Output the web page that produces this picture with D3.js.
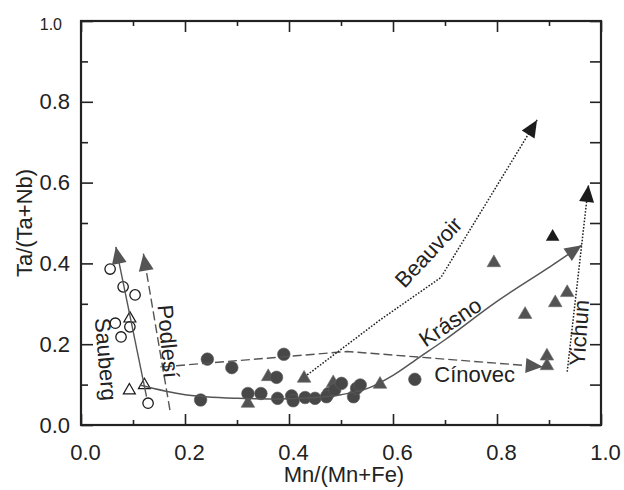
<!DOCTYPE html>
<html>
<head>
<meta charset="utf-8">
<script src="https://cdn.jsdelivr.net/npm/d3@7"></script>
<style>
  html, body { margin: 0; padding: 0; background: #fff; }
  svg { display: block; font-family: "Liberation Sans", Arial, sans-serif; }
</style>
</head>
<body>
<svg id="chart" width="624" height="490"></svg>
<script>
// ---------------- DATA ----------------
const xTickValues = [0.0, 0.2, 0.4, 0.6, 0.8, 1.0];
const yTickValues = [0.0, 0.2, 0.4, 0.6, 0.8, 1.0];
const xMinorTicks = [0.1, 0.3, 0.5, 0.7, 0.9];
const yMinorTicks = [0.1, 0.3, 0.5, 0.7, 0.9];
const xTitle = "Mn/(Mn+Fe)";
const yTitle = "Ta/(Ta+Nb)";

// Sauberg open circles [Mn/(Mn+Fe), Ta/(Ta+Nb)]
const saubergCircles = [
  [0.056, 0.386], [0.081, 0.342], [0.104, 0.322], [0.066, 0.252],
  [0.094, 0.243], [0.077, 0.218], [0.129, 0.054]
];
// Sauberg open triangles
const saubergTriangles = [
  [0.094, 0.266], [0.093, 0.088], [0.122, 0.101]
];
// Filled circles (Cínovec / Krásno)
const filledCircles = [
  [0.230, 0.062], [0.243, 0.163], [0.290, 0.142], [0.390, 0.175],
  [0.376, 0.118], [0.321, 0.078], [0.346, 0.078], [0.378, 0.066],
  [0.405, 0.072], [0.408, 0.060], [0.431, 0.068], [0.450, 0.066],
  [0.476, 0.078], [0.472, 0.070], [0.488, 0.087], [0.501, 0.103],
  [0.524, 0.070], [0.530, 0.091], [0.537, 0.099], [0.642, 0.113]
];
// Filled grey triangles
const greyTriangles = [
  [0.360, 0.122], [0.429, 0.118], [0.321, 0.056], [0.485, 0.107],
  [0.575, 0.103], [0.794, 0.404], [0.854, 0.276], [0.912, 0.305],
  [0.935, 0.330], [0.896, 0.173], [0.896, 0.149]
];
// Filled black triangles
const blackTriangles = [
  [0.907, 0.468]
];

// Trend arrows (last point = arrow tip)
const saubergTrend  = [[0.126, 0.070], [0.067, 0.441]];
const podlesiTrend  = [[0.171, 0.037], [0.120, 0.424]];
const krasnoTrend   = [[0.113, 0.099], [0.2, 0.075], [0.3, 0.066], [0.4, 0.065],
                       [0.45, 0.068], [0.5, 0.075], [0.55, 0.090], [0.6, 0.123],
                       [0.65, 0.167], [0.7, 0.211], [0.8, 0.306], [0.9, 0.390], [0.963, 0.445]];
const cinovecTrend  = [[0.158, 0.144], [0.512, 0.182], [0.888, 0.144]];
const beauvoirTrend = [[0.435, 0.124], [0.575, 0.260], [0.692, 0.365], [0.877, 0.755]];
const yichunTrend   = [[0.935, 0.132], [0.976, 0.594]];

const trendNames = ["Sauberg", "Podlesí", "Krásno", "Cínovec", "Beauvoir", "Yichun"];

// ---------------- LAYOUT ----------------
const svg = d3.select("#chart");
const L = 81, R = 601, T = 21, B = 425;
const x = d3.scaleLinear().domain([0, 1]).range([L, R]);
const y = d3.scaleLinear().domain([0, 1]).range([B, T]);
const FONT = 22;

// axes (inward ticks)
const fmt = d3.format(".1f");
const gx = svg.append("g").attr("transform", `translate(0,${B})`)
  .call(d3.axisBottom(x).tickValues(xTickValues).tickFormat(fmt).tickSizeInner(-11).tickSizeOuter(0).tickPadding(19));
gx.selectAll("text").attr("dx", 4).style("font-size", FONT + "px").attr("fill", "#222");
svg.append("g").attr("transform", `translate(0,${B})`)
  .call(d3.axisBottom(x).tickValues(xMinorTicks).tickFormat("").tickSizeInner(-5).tickSizeOuter(0));

const gy = svg.append("g").attr("transform", `translate(${L},0)`)
  .call(d3.axisLeft(y).tickValues(yTickValues).tickFormat(fmt).tickSizeInner(-12).tickSizeOuter(0).tickPadding(11));
gy.selectAll("text").style("font-size", d => (d === 1 ? 16 : FONT) + "px")
  .attr("dx", d => d === 1 ? -8 : 0).attr("dy", d => d === 1 ? "0.55em" : "0.32em").attr("fill", "#222");
svg.append("g").attr("transform", `translate(${L},0)`)
  .call(d3.axisLeft(y).tickValues(yMinorTicks).tickFormat("").tickSizeInner(-7).tickSizeOuter(0));

svg.append("g").attr("transform", `translate(0,${T})`)
  .call(d3.axisTop(x).tickValues(xTickValues).tickFormat("").tickSizeInner(-11).tickSizeOuter(0));
svg.append("g").attr("transform", `translate(0,${T})`)
  .call(d3.axisTop(x).tickValues(xMinorTicks).tickFormat("").tickSizeInner(-5).tickSizeOuter(0));
svg.append("g").attr("transform", `translate(${R},0)`)
  .call(d3.axisRight(y).tickValues(yTickValues.concat(yMinorTicks)).tickFormat("").tickSizeInner(-11).tickSizeOuter(0));

svg.selectAll(".domain").remove();
svg.selectAll(".tick line").attr("stroke", "#222").attr("stroke-width", 1.6);

// frame
svg.append("rect").attr("x", L).attr("y", T).attr("width", R - L).attr("height", B - T)
  .attr("fill", "none").attr("stroke", "#222").attr("stroke-width", 2.2);

// axis titles
svg.append("text").attr("x", (L + R) / 2 + 3).attr("y", 482).attr("text-anchor", "middle")
  .style("font-size", FONT + "px").attr("fill", "#222").text(xTitle);
svg.append("text").attr("transform", `translate(32,${(T + B) / 2}) rotate(-90)`)
  .attr("text-anchor", "middle").style("font-size", FONT + "px").attr("fill", "#222").text(yTitle);

// ---------------- MARKERS ----------------
const tri = d3.symbol().type(d3.symbolTriangle).size(80);
const triOpen = d3.symbol().type(d3.symbolTriangle).size(62);

svg.append("g").selectAll("path").data(greyTriangles).join("path")
  .attr("d", tri).attr("transform", d => `translate(${x(d[0])},${y(d[1]) + 1})`)
  .attr("fill", "#535353").attr("stroke", "#6a6a6a").attr("stroke-width", 0.6);
svg.append("g").selectAll("path").data(blackTriangles).join("path")
  .attr("d", tri).attr("transform", d => `translate(${x(d[0])},${y(d[1]) + 1})`)
  .attr("fill", "#1c1c1c");
svg.append("g").selectAll("circle").data(filledCircles).join("circle")
  .attr("cx", d => x(d[0])).attr("cy", d => y(d[1])).attr("r", 6.3)
  .attr("fill", "#474747").attr("stroke", "#5e5e5e").attr("stroke-width", 0.6);
svg.append("g").selectAll("circle").data(saubergCircles).join("circle")
  .attr("cx", d => x(d[0])).attr("cy", d => y(d[1])).attr("r", 5.2)
  .attr("fill", "none").attr("stroke", "#1a1a1a").attr("stroke-width", 1.3);
svg.append("g").selectAll("path").data(saubergTriangles).join("path")
  .attr("d", triOpen).attr("transform", d => `translate(${x(d[0])},${y(d[1]) + 1})`)
  .attr("fill", "none").attr("stroke", "#1a1a1a").attr("stroke-width", 1.2);

// ---------------- TREND ARROWS ----------------
const trends = [
  { pts: saubergTrend,  dash: null,      col: "#555", head: "#555", w: 1.4, curve: d3.curveLinear },
  { pts: podlesiTrend,  dash: "9,4",     col: "#555", head: "#555", w: 1.4, curve: d3.curveLinear },
  { pts: krasnoTrend,   dash: null,      col: "#555", head: "#555", w: 1.5, curve: d3.curveCatmullRom },
  { pts: cinovecTrend,  dash: "9,4",     col: "#555", head: "#555", w: 1.4, curve: d3.curveLinear },
  { pts: beauvoirTrend, dash: "1.6,1.6", col: "#222", head: "#1c1c1c", w: 1.5, curve: d3.curveLinear },
  { pts: yichunTrend,   dash: "1.6,1.6", col: "#222", head: "#1c1c1c", w: 1.5, curve: d3.curveLinear }
];
const line = d3.line().x(d => x(d[0])).y(d => y(d[1]));
trends.forEach(t => {
  const n = t.pts.length;
  const tip = [x(t.pts[n - 1][0]), y(t.pts[n - 1][1])];
  const prev = [x(t.pts[n - 2][0]), y(t.pts[n - 2][1])];
  let dx = tip[0] - prev[0], dy = tip[1] - prev[1];
  const len = Math.hypot(dx, dy); dx /= len; dy /= len;
  const HL = 17, HW = 7.5;
  svg.append("path").datum(t.pts).attr("d", line.curve(t.curve))
    .attr("fill", "none").attr("stroke", t.col).attr("stroke-width", t.w)
    .attr("stroke-dasharray", t.dash);
  const bx = tip[0] - dx * HL, by = tip[1] - dy * HL;
  const pts = [tip, [bx - dy * HW, by + dx * HW], [bx + dy * HW, by - dx * HW]];
  svg.append("path").attr("d", "M" + pts.map(p => p.join(",")).join("L") + "Z").attr("fill", t.head);
});

// small cross at start of the Cínovec trend
const cs = [x(cinovecTrend[0][0]), y(cinovecTrend[0][1])];
svg.append("path").attr("d", `M${cs[0] - 3},${cs[1]}H${cs[0] + 3}M${cs[0]},${cs[1] - 3}V${cs[1] + 3}`)
  .attr("stroke", "#555").attr("stroke-width", 1);

// ---------------- LABELS ----------------
const labels = [
  { name: trendNames[0], at: [0.048, 0.163], rot: 85 },
  { name: trendNames[1], at: [0.168, 0.207], rot: 85 },
  { name: trendNames[2], at: [0.710, 0.255], rot: -34 },
  { name: trendNames[3], at: [0.757, 0.126], rot: 0 },
  { name: trendNames[4], at: [0.668, 0.428], rot: -47 },
  { name: trendNames[5], at: [0.958, 0.228], rot: -86 }
];
labels.forEach(l => {
  svg.append("text")
    .attr("transform", `translate(${x(l.at[0])},${y(l.at[1])}) rotate(${l.rot})`)
    .attr("text-anchor", "middle").attr("dy", "0.35em")
    .style("font-size", FONT + "px").attr("fill", "#222").text(l.name);
});
</script>
</body>
</html>
